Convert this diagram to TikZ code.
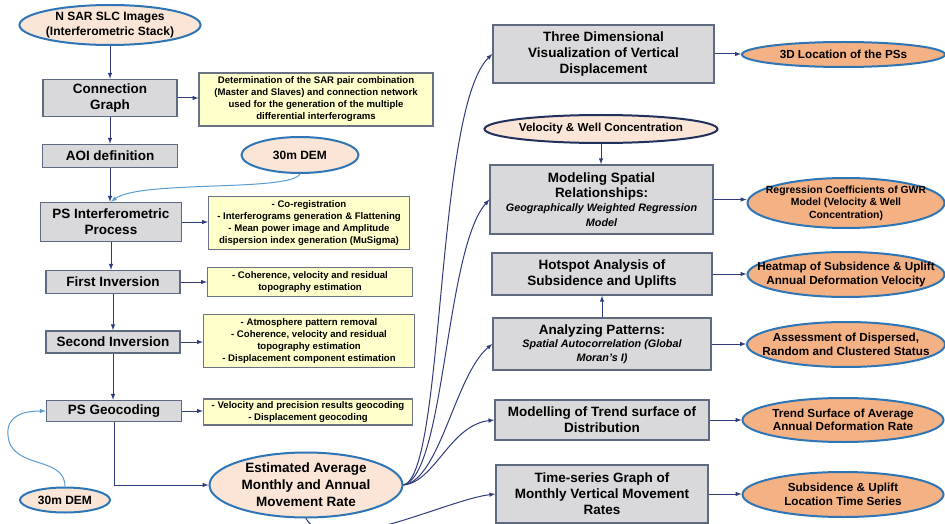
\documentclass[tikz,border=0pt]{standalone}
\usepackage{fontspec}
\setmainfont{Liberation Sans}
\usetikzlibrary{shapes.geometric}
\definecolor{boxgray}{HTML}{D9D9DC}
\definecolor{boxline}{HTML}{5E6A80}
\definecolor{notefill}{HTML}{FFFFCC}
\definecolor{noteline}{HTML}{6A7384}
\definecolor{peach}{HTML}{FBE5D6}
\definecolor{orangefill}{HTML}{F4B183}
\definecolor{ellblue}{HTML}{2E75B6}
\definecolor{navyline}{HTML}{22305E}
\definecolor{flowblue}{HTML}{2F3B7A}
\definecolor{demblue}{HTML}{5A9BD0}
\newcommand\subline[1]{{\fontsize{10.8}{13}\selectfont\itshape #1}}

\begin{document}
\begin{tikzpicture}[x=1pt, y=-1pt, -latex, line width=1pt, flowblue,
  procbox/.style={rectangle, draw=boxline, fill=boxgray, line width=1.5pt, inner sep=1pt, align=center, text=black, font=\fontsize{13.5}{16}\selectfont\bfseries},
  notebox/.style={rectangle, draw=noteline, fill=notefill, line width=1.2pt, inner sep=1pt, align=center, text=black, font=\fontsize{9.6}{12}\selectfont\bfseries},
  inell/.style={ellipse, draw=ellblue, fill=peach, line width=2pt, inner sep=0pt, align=center, text=black, font=\fontsize{12}{15}\selectfont\bfseries},
  outell/.style={ellipse, draw=ellblue, fill=orangefill, line width=2pt, inner sep=0pt},
  elltext/.style={align=center, text=black, font=\fontsize{11.7}{13.5}\selectfont\bfseries},
  demline/.style={demblue}]
\useasboundingbox (0,0) rectangle (945,524);

% left column: SAR processing chain
\node[inell, minimum width=170pt, minimum height=40pt] (stack) at (110,25) {N SAR SLC Images\\(Interferometric Stack)};
\node[procbox, minimum width=134pt, minimum height=37pt] (cg) at (110,98) {Connection\\Graph};
\node[notebox, minimum width=234pt, minimum height=53pt] (n1) at (316,99.5) {Determination of the SAR pair combination\\(Master and Slaves) and connection network\\used for the generation of the multiple\\differential interferograms};
\node[procbox, minimum width=135pt, minimum height=23pt] (aoi) at (110,156) {AOI definition};
\node[inell, minimum width=117pt, minimum height=36pt] (dem1) at (300,155) {30m DEM};
\node[procbox, minimum width=141pt, minimum height=39pt] (psi) at (111,222) {PS Interferometric\\Process};
\node[notebox, minimum width=201pt, minimum height=53pt] (n2) at (309,223) {- Co-registration\\- Interferograms generation \& Flattening\\- Mean power image and Amplitude\\dispersion index generation (MuSigma)};
\node[procbox, minimum width=134pt, minimum height=23pt] (inv1) at (113,282) {First Inversion};
\node[notebox, minimum width=205pt, minimum height=29pt] (n3) at (310,282) {- Coherence, velocity and residual\\topography estimation};
\node[procbox, minimum width=134pt, minimum height=22pt] (inv2) at (113,342) {Second Inversion};
\node[notebox, minimum width=211pt, minimum height=53pt] (n4) at (309,341) {- Atmosphere pattern removal\\- Coherence, velocity and residual\\topography estimation\\- Displacement component estimation};
\node[procbox, minimum width=135pt, minimum height=21pt] (geo) at (114,411) {PS Geocoding};
\node[notebox, minimum width=209pt, minimum height=26pt] (n5) at (308,412) {- Velocity and precision results geocoding\\- Displacement geocoding};
\node[inell, minimum width=193pt, minimum height=65pt, label={[elltext, font=\fontsize{13.5}{17}\selectfont\bfseries]center:{Estimated Average\\Monthly and Annual\\Movement Rate}}] (est) at (306,485) {};
\node[inell, minimum width=90pt, minimum height=25pt] (dem2) at (65,500) {30m DEM};

% right column: analysis and outputs
\node[procbox, minimum width=221pt, minimum height=58pt] (vis) at (603.5,54) {Three Dimensional\\Visualization of Vertical\\Displacement};
\node[outell, minimum width=203pt, minimum height=25pt, label={[elltext]center:3D Location of the PSs}] (loc) at (843.5,54.5) {};
\node[inell, draw=navyline, minimum width=233pt, minimum height=28pt, font=\fontsize{11.6}{13}\selectfont\bfseries] (vel) at (601,129) {Velocity \& Well Concentration};
\node[procbox, minimum width=223pt, minimum height=69pt, font=\fontsize{13.5}{14.5}\selectfont\bfseries] (gwr) at (601.5,199.5) {Modeling Spatial\\Relationships:\\\subline{Geographically Weighted Regression}\\\subline{Model}};
\node[outell, minimum width=197pt, minimum height=50pt, label={[elltext, font=\fontsize{10.4}{12.5}\selectfont\bfseries]center:{Regression Coefficients of GWR\\Model (Velocity \& Well\\Concentration)}}] (coef) at (846,203) {};
\node[procbox, minimum width=220pt, minimum height=42pt] (hot) at (602,274) {Hotspot Analysis of\\Subsidence and Uplifts};
\node[outell, minimum width=197pt, minimum height=45pt, label={[elltext]center:{Heatmap of Subsidence \& Uplift\\Annual Deformation Velocity}}] (heat) at (846,274.5) {};
\node[procbox, minimum width=218pt, minimum height=52pt, font=\fontsize{13.5}{13.5}\selectfont\bfseries] (pat) at (602,344) {Analyzing Patterns:\\\subline{Spatial Autocorrelation (Global}\\\subline{Moran's I)}};
\node[outell, minimum width=198pt, minimum height=45pt, label={[elltext]center:{Assessment of Dispersed,\\Random and Clustered Status}}] (disp) at (846,344.5) {};
\node[procbox, minimum width=214pt, minimum height=40pt] (trend) at (602,420) {Modelling of Trend surface of\\Distribution};
\node[outell, minimum width=201pt, minimum height=44pt, label={[elltext]center:{Trend Surface of Average\\Annual Deformation Rate}}] (tsurf) at (843,420) {};
\node[procbox, minimum width=212pt, minimum height=58pt] (ts) at (602,494) {Time-series Graph of\\Monthly Vertical Movement\\Rates};
\node[outell, minimum width=201pt, minimum height=45pt, label={[elltext]center:{Subsidence \& Uplift\\Location Time Series}}] (loct) at (843,494.5) {};

% processing chain arrows
\draw (stack.south) -- (stack.south |- cg.north);
\draw (cg.east) -- (cg.east -| n1.west);
\draw (cg.south) -- (cg.south |- aoi.north);
\draw (aoi.south) -- (aoi.south |- psi.north);
\draw[demline] (dem1.south) .. controls (290,192) and (140,180) .. (psi.north);
\draw (psi.east) -- (psi.east -| n2.west);
\draw (psi.south) -- (psi.south |- inv1.north);
\draw (inv1.east) -- (inv1.east -| n3.west);
\draw (inv1.south) -- (inv1.south |- inv2.north);
\draw (inv2.east) -- (inv2.east -| n4.west);
\draw (inv2.south) -- (inv2.south |- geo.north);
\draw (geo.east) -- (geo.east -| n5.west);
\draw (geo.south) |- (est.west);
\draw[demline] (dem2.north) .. controls (65,455) and (10,470) .. (8,435) .. controls (6,415) and (25,411) .. (geo.west);

% analysis arrows
\draw (est.east) .. controls (445,475) and (435,110) .. (vis.west);
\draw (est.east) .. controls (445,475) and (445,250) .. (gwr.west);
\draw (est.east) .. controls (440,480) and (455,375) .. (pat.west);
\draw (est.east) .. controls (435,482) and (450,425) .. (trend.west);
\draw (est.south) .. controls (330,560) and (445,500) .. (ts.west);
\draw (vel.south) -- (vel.south |- gwr.north);
\draw (pat.north) -- (pat.north |- hot.south);
\draw (vis.east) -- (vis.east -| loc.west);
\draw (gwr.east) -- (gwr.east -| coef.west);
\draw (hot.east) -- (hot.east -| heat.west);
\draw (pat.east) -- (pat.east -| disp.west);
\draw (trend.east) -- (trend.east -| tsurf.west);
\draw (ts.east) -- (ts.east -| loct.west);
\end{tikzpicture}
\end{document}
